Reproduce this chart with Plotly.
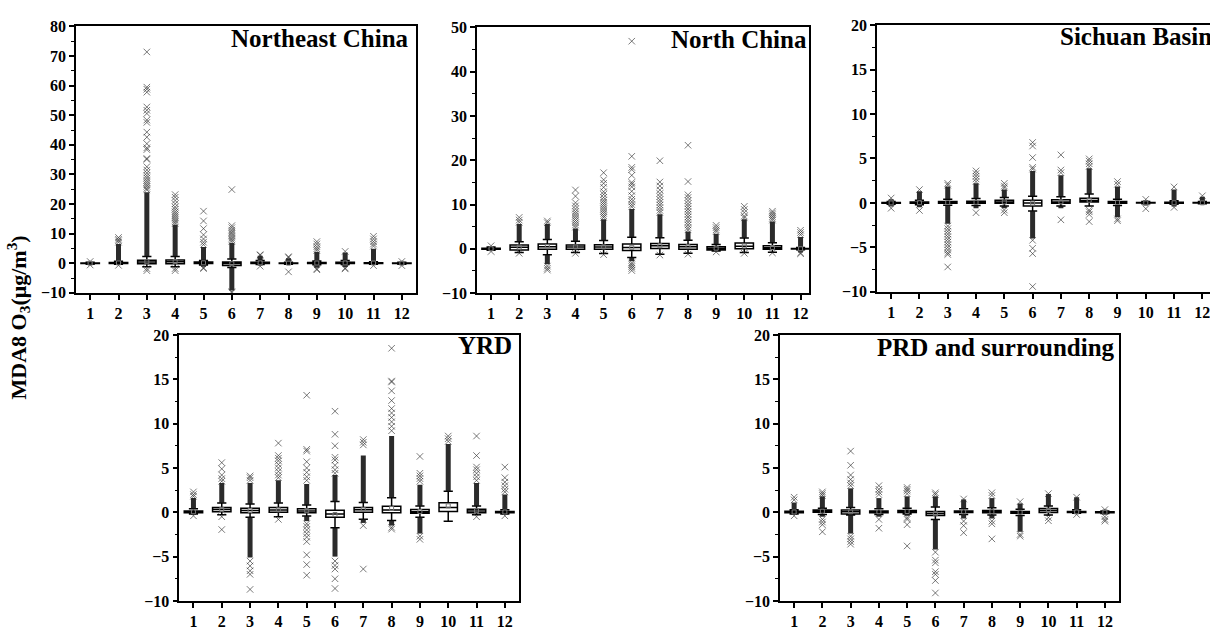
import plotly.graph_objects as go

MONTHS = list(range(1, 13))
MONTH_LABELS = [str(m) for m in MONTHS]

# ---------------- Northeast China ----------------
NE_q1 = [-0.1, -0.05, -0.2, -0.2, -0.1, -0.8, -0.05, -0.05, -0.1, -0.05, -0.05, -0.1]
NE_median = [0.0, 0.05, 0.45, 0.5, 0.1, -0.1, 0.1, 0.0, 0.05, 0.1, 0.05, 0.0]
NE_q3 = [0.1, 0.25, 1.0, 1.1, 0.4, 0.45, 0.35, 0.1, 0.25, 0.35, 0.15, 0.1]
NE_lower = [-0.3, -0.35, -1.2, -1.2, -0.6, -1.45, -0.45, -0.3, -0.5, -0.45, -0.3, -0.3]
NE_upper = [0.3, 0.7, 2.3, 2.3, 0.9, 1.45, 0.9, 0.3, 0.8, 0.9, 0.5, 0.3]
NE_mean = [0.0, 0.1, 0.5, 0.55, 0.15, -0.15, 0.15, 0.03, 0.08, 0.12, 0.07, 0.0]
NE_dense_top = [0.5, 6.5, 24.0, 13.0, 5.5, 6.8, 2.5, 1.7, 3.8, 3.6, 4.9, 0.5]
NE_dense_bottom = [-0.5, -0.5, None, None, -1.2, -9.2, -0.8, None, -1.5, -1.3, -0.6, -0.6]
NE_outliers = [
    [0.6, -0.6],
    [8.7, 8.1, 7.6, 7.1, -0.7],
    [71.4, 59.5, 58.8, 57.8, 52.8, 51.7, 50.6, 48.4, 47.6, 44.3, 42.6, 40.4, 39.0, 38.4,
     35.4, 35.1, 32.6, 31.5, 30.5, 29.6, 28.8, 28.0, 27.3, 26.6, 26.0, 25.3, 24.8, -1.8, -2.5],
    [23.2, 22.3, 21.2, 20.1, 19.0, 18.2, 17.4, 16.7, 16.0, 15.3, 14.6, 14.0, 13.4, -1.8, -2.5],
    [17.6, 14.3, 11.7, 9.6, 8.2, 7.1, 6.3, -1.5, -1.8],
    [24.9, 12.7, 12.0, 11.2, 10.5, 9.9, 9.2, 8.5, 7.9, 7.3, -9.6, -9.9],
    [2.9, 2.7, -1.0],
    [2.2, 1.9, -2.9],
    [7.3, 6.5, 5.6, 4.9, 4.3, -1.9, -2.2],
    [4.0, -1.6, -1.9],
    [9.1, 8.2, 7.3, 6.5, 5.8, -0.8],
    [0.6, -0.8],
]

# ---------------- North China ----------------
NC_q1 = [-0.1, -0.25, -0.1, -0.1, -0.1, -0.4, 0.1, -0.1, -0.25, 0.05, -0.1, -0.05]
NC_median = [0.0, 0.35, 0.5, 0.4, 0.4, 0.3, 0.7, 0.45, 0.1, 0.6, 0.25, 0.0]
NC_q3 = [0.15, 0.85, 1.07, 0.85, 0.92, 1.07, 1.2, 1.0, 0.5, 1.3, 0.7, 0.1]
NC_lower = [-0.3, -0.85, -1.35, -0.85, -1.05, -1.95, -1.2, -1.0, -0.5, -0.85, -0.75, -0.2]
NC_upper = [0.4, 1.6, 2.1, 1.7, 1.9, 2.6, 2.5, 1.95, 1.0, 2.45, 1.35, 0.3]
NC_mean = [0.02, 0.4, 0.5, 0.45, 0.45, 0.35, 0.7, 0.5, 0.15, 0.65, 0.3, 0.03]
NC_dense_top = [0.6, 5.6, 5.6, 4.6, 6.7, 9.0, 7.8, 3.9, 3.4, 6.7, 6.2, 2.7]
NC_dense_bottom = [-0.5, None, -3.5, None, None, -2.8, None, None, None, None, None, -0.8]
NC_outliers = [
    [0.7, -0.6],
    [7.1, 6.5, 6.0, -1.0],
    [6.3, 5.9, -3.9, -4.4, -4.8],
    [13.3, 11.9, 10.4, 9.7, 9.0, 8.4, 7.9, 7.4, 6.9, 6.4, 5.9, 5.4, 4.9, -1.0],
    [17.2, 15.6, 14.8, 13.9, 12.9, 12.3, 11.6, 11.0, 10.5, 10.0, 9.5, 9.0, 8.5, 8.0, 7.5, 7.1, -1.3],
    [46.9, 20.9, 18.4, 17.9, 16.6, 15.0, 14.6, 14.0, 13.0, 12.0, 11.2, 10.6, 10.0, 9.5,
     -3.2, -3.6, -4.0, -4.4, -4.9],
    [19.9, 15.1, 14.2, 13.3, 12.5, 11.8, 11.1, 10.5, 9.9, 9.3, 8.7, 8.2, -1.4],
    [23.4, 15.2, 12.2, 11.6, 10.9, 10.2, 9.6, 9.0, 8.4, 7.8, 7.2, 6.6, 6.0, 5.4, 4.8, 4.3, -1.2],
    [5.3, 4.8, 4.3, 3.9, -0.7],
    [9.6, 8.9, 8.2, 7.4, 7.0, -1.0],
    [8.5, 8.1, 7.7, 7.3, 6.9, 6.5, -0.9],
    [4.2, 3.7, 3.2, -0.9, -1.1],
]

# ---------------- Sichuan Basin ----------------
SB_q1 = [-0.05, -0.05, -0.05, -0.05, -0.05, -0.35, -0.05, 0.1, -0.05, -0.02, -0.03, -0.02]
SB_median = [0.0, 0.02, 0.05, 0.05, 0.1, 0.0, 0.1, 0.28, 0.03, 0.01, 0.02, 0.01]
SB_q3 = [0.05, 0.1, 0.15, 0.2, 0.3, 0.3, 0.35, 0.53, 0.15, 0.05, 0.08, 0.05]
SB_lower = [-0.15, -0.2, -0.25, -0.3, -0.35, -0.9, -0.35, -0.35, -0.3, -0.1, -0.15, -0.1]
SB_upper = [0.15, 0.3, 0.4, 0.5, 0.6, 0.75, 0.7, 1.0, 0.4, 0.15, 0.25, 0.15]
SB_mean = [0.0, 0.03, 0.05, 0.06, 0.1, -0.02, 0.12, 0.3, 0.04, 0.01, 0.02, 0.01]
SB_dense_top = [0.4, 1.3, 1.85, 2.2, 1.5, 3.6, 3.1, 3.9, 1.85, 0.3, 1.5, 0.7]
SB_dense_bottom = [-0.4, -0.5, -2.35, -0.6, -0.6, -4.0, -0.6, None, -1.6, -0.3, -0.4, None]
SB_outliers = [
    [0.55, -0.6],
    [1.5, -0.85],
    [2.2, 2.0, -2.6, -2.9, -3.2, -3.5, -3.8, -4.1, -4.4, -4.7, -5.0, -5.3, -5.6, -5.8, -7.2],
    [3.6, 3.3, 3.0, 2.7, 2.4, -1.1],
    [2.2, 1.9, 1.7, -0.8, -1.1],
    [6.8, 6.4, 5.1, 4.0, 3.8, -4.2, -5.1, -5.7, -9.4],
    [5.4, 3.7, 3.4, -1.9],
    [4.95, 4.7, 4.4, 4.1, -0.8, -1.0, -1.3, -2.1],
    [2.4, 2.1, -1.8, -2.0],
    [0.4, -0.65],
    [1.8, -0.5],
    [0.8],
]

# ---------------- YRD ----------------
YRD_q1 = [-0.05, 0.06, -0.05, 0.0, -0.05, -0.56, 0.0, -0.05, -0.12, 0.1, -0.05, -0.05]
YRD_median = [0.05, 0.31, 0.2, 0.25, 0.15, -0.2, 0.3, 0.25, 0.05, 0.53, 0.15, 0.02]
YRD_q3 = [0.15, 0.53, 0.46, 0.53, 0.39, 0.24, 0.53, 0.68, 0.31, 1.08, 0.35, 0.1]
YRD_lower = [-0.2, -0.27, -0.56, -0.5, -0.42, -1.74, -0.78, -0.93, -0.56, -1.0, -0.27, -0.2]
YRD_upper = [0.4, 1.05, 0.94, 1.05, 0.83, 1.23, 1.1, 1.63, 0.72, 2.36, 0.72, 0.3]
YRD_mean = [0.06, 0.33, 0.2, 0.28, 0.18, -0.25, 0.33, 0.43, 0.08, 0.73, 0.17, 0.04]
YRD_dense_top = [1.6, 3.3, 3.3, 3.6, 3.2, 4.2, 6.4, 8.6, 3.1, 7.7, 3.3, 2.0]
YRD_dense_bottom = [-0.3, None, -5.1, None, -1.0, -5.0, -1.2, -1.5, -2.4, None, None, -0.3]
YRD_outliers = [
    [2.3, 2.0, 1.8, -0.4],
    [5.6, 4.9, 4.2, 3.8, 3.5, -0.5, -1.95],
    [4.1, 3.9, 3.6, -5.5, -6.05, -6.6, -7.0, -8.7],
    [7.8, 6.4, 6.1, 5.8, 5.4, 5.0, 4.6, 4.2, 3.9, -0.8],
    [13.2, 7.1, 6.9, 5.7, 5.0, 4.5, 4.0, 3.6, -1.3, -1.6, -2.0, -2.4, -2.8, -3.3, -4.8, -5.9, -7.1],
    [11.4, 8.8, 7.5, 6.2, 5.9, 5.3, 4.8, 4.4, -5.5, -6.0, -6.4, -7.5, -8.6],
    [8.2, 7.9, 7.6, -1.5, -6.4],
    [18.5, 14.8, 14.7, 13.7, 12.6, 11.7, 11.2, 10.7, 10.2, 9.7, 9.2, -1.7, -1.9],
    [6.3, 4.4, 4.1, 3.8, 3.5, -2.7, -3.05],
    [8.6, 8.3, 8.0],
    [8.6, 6.4, 5.1, 4.8, 4.4, 4.0, 3.6, -0.5],
    [5.1, 3.9, 3.4, 3.0, 2.6, 2.3, -0.4],
]

# ---------------- PRD and surrounding ----------------
PRD_q1 = [-0.05, 0.0, -0.2, -0.05, -0.02, -0.35, -0.03, -0.05, -0.1, -0.02, -0.02, -0.05]
PRD_median = [0.03, 0.1, 0.05, 0.05, 0.08, -0.15, 0.05, 0.05, 0.0, 0.2, 0.03, 0.0]
PRD_q3 = [0.12, 0.25, 0.27, 0.15, 0.2, 0.1, 0.15, 0.2, 0.1, 0.42, 0.1, 0.05]
PRD_lower = [-0.2, -0.25, -0.31, -0.25, -0.2, -0.8, -0.25, -0.3, -0.35, -0.3, -0.1, -0.15]
PRD_upper = [0.3, 0.45, 0.53, 0.4, 0.45, 0.6, 0.4, 0.5, 0.35, 0.7, 0.3, 0.15]
PRD_mean = [0.04, 0.12, 0.05, 0.06, 0.09, -0.17, 0.06, 0.07, 0.0, 0.22, 0.04, 0.0]
PRD_dense_top = [1.1, 1.8, 2.7, 1.6, 1.8, 1.8, 1.45, 1.6, 1.0, 2.07, 1.7, 0.3]
PRD_dense_bottom = [-0.3, -0.5, -2.4, -0.5, -0.4, -4.2, -0.7, -0.7, -2.2, -0.4, -0.2, -0.3]
PRD_outliers = [
    [1.7, 1.4, -0.4],
    [2.3, 2.1, 1.9, -0.8, -1.1, -1.4, -2.2],
    [6.9, 5.3, 4.2, 3.7, 3.3, 3.0, -2.7, -3.0, -3.3, -3.6],
    [3.0, 2.6, 2.3, 2.0, -0.8, -1.8],
    [2.8, 2.6, 2.4, 2.1, -0.6, -0.8, -1.4, -3.8],
    [2.2, 2.0, -4.5, -5.4, -5.7, -6.7, -7.0, -7.7, -9.1],
    [1.5, -1.0, -1.5, -2.3],
    [2.2, 1.9, -1.0, -1.3, -3.0],
    [1.2, -2.5, -2.7],
    [2.1, -0.6, -0.95],
    [1.7, -0.25],
    [0.3, -0.5, -0.8, -1.0],
]

TITLES = ["Northeast China", "North China", "Sichuan Basin", "YRD", "PRD and surrounding"]
Y_TITLE = "MDA8 O<sub>3</sub>(μg/m<sup>3</sup>)"

W, H = 1210, 633
FONT = "Liberation Serif"

panels = [
    dict(q1=NE_q1, med=NE_median, q3=NE_q3, lo=NE_lower, hi=NE_upper, mean=NE_mean,
         dtop=NE_dense_top, dbot=NE_dense_bottom, out=NE_outliers,
         px=(76, 416), py=(19, 292.7), xr=[0.5, 12.5], yr=[-10, 80], dt=10, mirror_y=True,
         title_anchor="right", tx=411, ty=15),
    dict(q1=NC_q1, med=NC_median, q3=NC_q3, lo=NC_lower, hi=NC_upper, mean=NC_mean,
         dtop=NC_dense_top, dbot=NC_dense_bottom, out=NC_outliers,
         px=(477, 809), py=(20, 293), xr=[0.5, 12.3], yr=[-10, 50], dt=10, mirror_y=True,
         title_anchor="right", tx=809, ty=16),
    dict(q1=SB_q1, med=SB_median, q3=SB_q3, lo=SB_lower, hi=SB_upper, mean=SB_mean,
         dtop=SB_dense_top, dbot=SB_dense_bottom, out=SB_outliers,
         px=(877, 1210), py=(17.5, 291.7), xr=[0.5, 12.27], yr=[-10, 20], dt=5, mirror_y=False,
         title_anchor="left", tx=1058, ty=13),
    dict(q1=YRD_q1, med=YRD_median, q3=YRD_q3, lo=YRD_lower, hi=YRD_upper, mean=YRD_mean,
         dtop=YRD_dense_top, dbot=YRD_dense_bottom, out=YRD_outliers,
         px=(179.3, 519), py=(336, 609.3), xr=[0.5, 12.5], yr=[-10, 20], dt=5, mirror_y=True,
         title_anchor="right", tx=514, ty=331),
    dict(q1=PRD_q1, med=PRD_median, q3=PRD_q3, lo=PRD_lower, hi=PRD_upper, mean=PRD_mean,
         dtop=PRD_dense_top, dbot=PRD_dense_bottom, out=PRD_outliers,
         px=(780, 1119), py=(336, 609.3), xr=[0.5, 12.5], yr=[-10, 20], dt=5, mirror_y=True,
         title_anchor="right", tx=1117, ty=333),
]

fig = go.Figure()
layout = dict(
    width=W, height=H, margin=dict(l=0, r=0, t=0, b=0),
    paper_bgcolor="white", plot_bgcolor="white", showlegend=False,
    font=dict(family=FONT, color="black", weight="bold"),
)
annotations = []

tickfont = dict(family=FONT, size=16, color="black", weight="bold")

for i, p in enumerate(panels, start=1):
    sfx = "" if i == 1 else str(i)
    xa, ya = "x" + sfx, "y" + sfx

    # dense outlier columns
    bx, by = [], []
    for m, hi, top, lo, bot in zip(MONTHS, p["hi"], p["dtop"], p["lo"], p["dbot"]):
        if top is not None:
            bx += [m, m, None]
            by += [hi, top, None]
        if bot is not None:
            bx += [m, m, None]
            by += [lo, bot, None]
    fig.add_trace(go.Scatter(x=bx, y=by, mode="lines", xaxis=xa, yaxis=ya,
                             line=dict(color="rgba(20,20,20,0.9)", width=5),
                             hoverinfo="skip", cliponaxis=True))

    # sparse outliers
    ox, oy = [], []
    for m, vals in zip(MONTHS, p["out"]):
        ox += [m] * len(vals)
        oy += vals
    fig.add_trace(go.Scatter(x=ox, y=oy, mode="markers", xaxis=xa, yaxis=ya,
                             marker=dict(symbol="x-thin", size=6.5,
                                         line=dict(color="rgba(50,50,50,0.65)", width=1)),
                             hoverinfo="skip"))

    # boxes
    fig.add_trace(go.Box(x=MONTHS, q1=p["q1"], median=p["med"], q3=p["q3"],
                         lowerfence=p["lo"], upperfence=p["hi"],
                         xaxis=xa, yaxis=ya, width=0.65, whiskerwidth=0.5,
                         boxpoints=False, fillcolor="white",
                         line=dict(color="black", width=1.5)))

    # means
    fig.add_trace(go.Scatter(x=MONTHS, y=p["mean"], mode="markers", xaxis=xa, yaxis=ya,
                             marker=dict(symbol="square-open", size=4,
                                         line=dict(color="#777", width=1), color="#777"),
                             hoverinfo="skip"))

    x0, x1 = p["px"]
    y0, y1 = p["py"]
    layout["xaxis" + sfx] = dict(
        domain=[x0 / W, min(x1 / W, 1.0)], anchor=ya, range=p["xr"],
        tickmode="array", tickvals=MONTHS, ticktext=MONTH_LABELS,
        ticks="outside", ticklen=5, tickwidth=1.5, tickcolor="black",
        showline=True, linewidth=1.5, linecolor="black", mirror=True,
        showgrid=False, zeroline=False, tickfont=tickfont, ticklabeloverflow="allow",
    )
    layout["yaxis" + sfx] = dict(
        domain=[1 - y1 / H, 1 - y0 / H], anchor=xa, range=p["yr"],
        tick0=0, dtick=p["dt"], ticks="outside", ticklen=5, tickwidth=1.5, tickcolor="black",
        minor=dict(ticks="outside", ticklen=3, tickwidth=1, tickcolor="black", dtick=p["dt"] / 2),
        showline=True, linewidth=1.5, linecolor="black", mirror=p["mirror_y"],
        showgrid=False, zeroline=False, tickfont=tickfont,
    )
    annotations.append(dict(
        text=TITLES[i - 1], xref="paper", yref="paper", x=p["tx"] / W, y=1 - p["ty"] / H,
        xanchor=p["title_anchor"], yanchor="top", showarrow=False,
        font=dict(family=FONT, size=25, color="black", weight="bold"),
    ))

annotations.append(dict(
    text=Y_TITLE, xref="paper", yref="paper", x=18 / W, y=1 - 318 / H,
    xanchor="center", yanchor="middle", textangle=-90, showarrow=False,
    font=dict(family=FONT, size=22, color="black", weight="bold"),
))
layout["annotations"] = annotations
fig.update_layout(**layout)

fig.write_html("out.html", config={"displayModeBar": False},
               post_script="document.body.style.margin='0px';document.body.style.overflow='hidden';")
